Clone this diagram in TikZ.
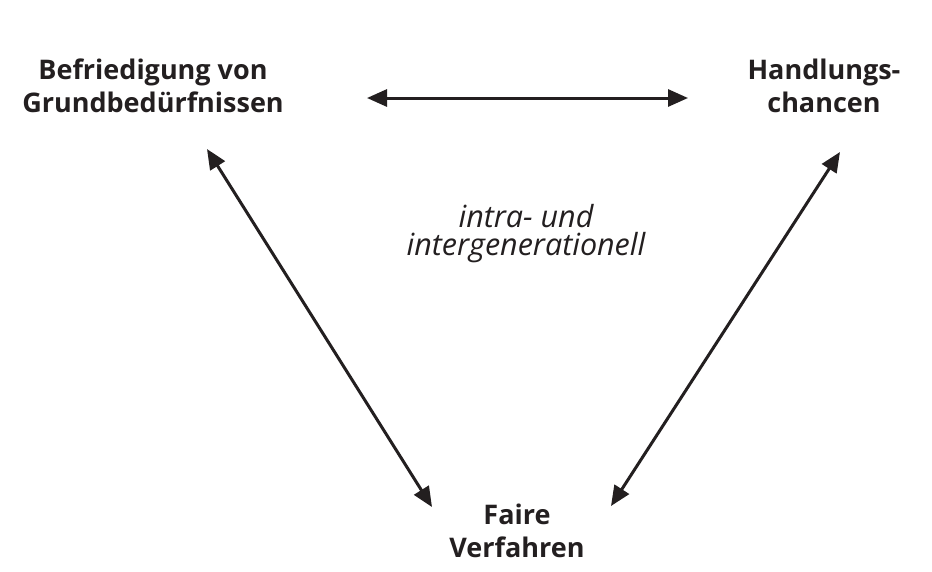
\documentclass[tikz,border=0pt]{standalone}
\usepackage{fontspec}
\setmainfont{Open Sans}
\usetikzlibrary{arrows.meta,calc}
\definecolor{ink}{HTML}{231F20}
\tikzset{
  term/.style={font=\bfseries\fontsize{27}{33}\selectfont, text=ink, align=center, inner sep=0pt, anchor=base},
  note/.style={font=\itshape\fontsize{30.5}{28}\selectfont, text=ink, align=center, inner sep=0pt, anchor=base},
  link/.style={draw=ink, line width=3pt, {Triangle[length=20pt,width=17pt]}-{Triangle[length=20pt,width=17pt]}}
}
\begin{document}
\begin{tikzpicture}[x=1pt,y=-1pt]
  \useasboundingbox[fill=white] (0,0) rectangle (932,571);
  \node[term] (bef) at (153,112) {Befriedigung von\\Grundbedürfnissen};
  \node[term] (hand) at (824,112) {Handlungs-\\chancen};
  \node[term] (fair) at (517,557) {Faire\\Verfahren};
  \node[note] (gen) at (526,255) {intra- und\\intergenerationell};
  % arrow end points next to the three terms
  \coordinate (befR) at (367,98);
  \coordinate (handL) at (688,98);
  \coordinate (befB) at (207,149);
  \coordinate (fairL) at (432,507);
  \coordinate (handB) at (840,152);
  \coordinate (fairR) at (611,506);
  \draw[link] (befR) -- (handL);
  \draw[link] (befB) -- (fairL);
  \draw[link] (handB) -- (fairR);
\end{tikzpicture}
\end{document}
